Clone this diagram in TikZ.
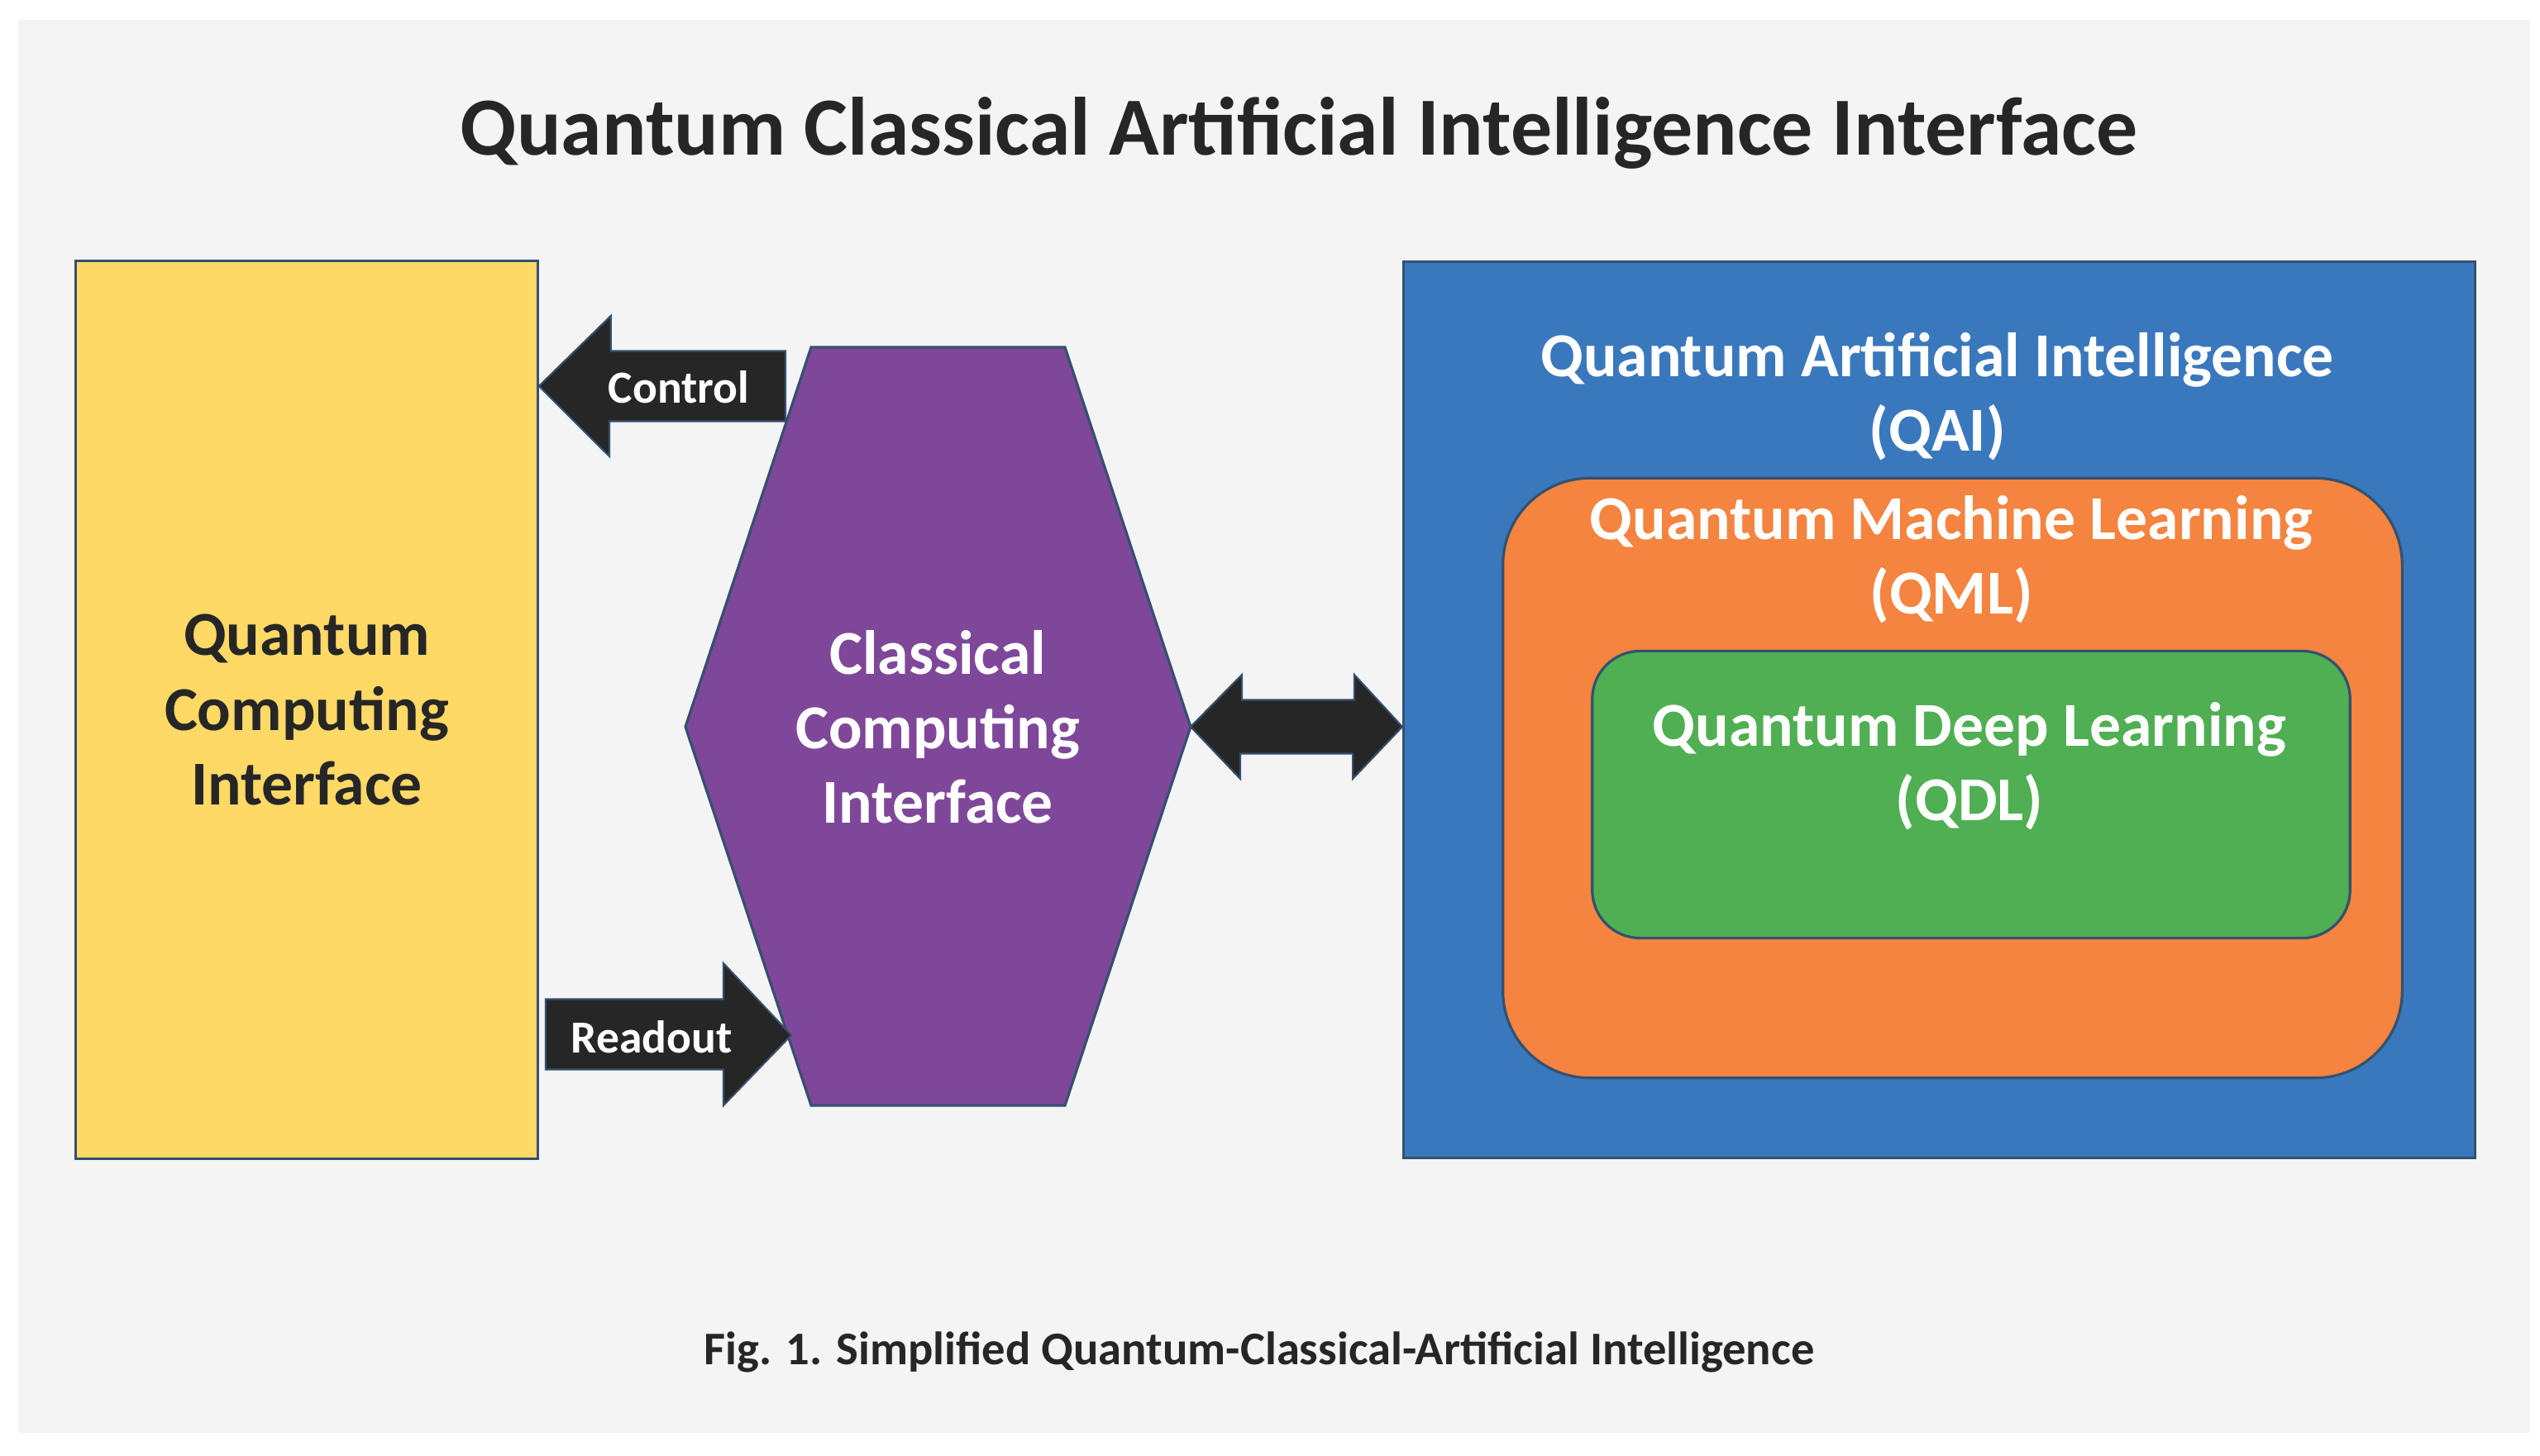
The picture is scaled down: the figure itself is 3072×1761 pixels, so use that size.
\documentclass[tikz,border=0pt]{standalone}
\usepackage{fontspec}
\setmainfont{Carlito}
\usetikzlibrary{calc}
\definecolor{bggray}{HTML}{F4F4F4}
\definecolor{qyellow}{HTML}{FFD966}
\definecolor{qpurple}{HTML}{7F4799}
\definecolor{qblue}{HTML}{3A78BD}
\definecolor{qorange}{HTML}{F4843F}
\definecolor{qgreen}{HTML}{4FAF52}
\definecolor{arrowdark}{HTML}{262626}
\definecolor{edgeblue}{HTML}{34506F}

\begin{document}
\begin{tikzpicture}[x=0.01cm,y=-0.01cm,
    box/.style={draw=edgeblue,line width=0.9pt,inner sep=0pt},
    bigtxt/.style={font=\fontsize{21.5}{25.6}\selectfont\bfseries,align=center,text=white},
    blockarrow/.style={fill=arrowdark,draw=edgeblue,line width=0.6pt},
    arrowtxt/.style={font=\fontsize{15.8}{19}\selectfont\bfseries,text=white}]
  % page and background
  \useasboundingbox (0,0) rectangle (3072,1761);
  \fill[white] (0,0) rectangle (3072,1761);
  \fill[bggray] (22,24) rectangle (3060,1733);
  \node[anchor=base,font=\fontsize{28.4}{34}\selectfont\bfseries,text=arrowdark] (title) at (1571,188)
    {Quantum Classical Artificial Intelligence Interface};

  % quantum side
  \node[box,fill=qyellow,minimum width=5.58cm,minimum height=10.85cm,bigtxt,text=arrowdark] (qci) at (371,858.5)
    {Quantum\\Computing\\Interface};

  % classical hexagon
  \draw[box,fill=qpurple] (981,420) -- (1288,420) -- (1440,879) -- (1288,1337) -- (981,1337) -- (829,879) -- cycle;
  \coordinate (hexR) at (1440,879);
  \node[bigtxt] (cci) at (1134,879) {Classical\\Computing\\Interface};

  % AI boxes
  \node[box,fill=qblue,minimum width=12.95cm,minimum height=10.83cm] (qai) at (2345.5,858.5) {};
  \node[bigtxt] (qailabel) at (2343,480) {Quantum Artificial Intelligence\\(QAI)};
  \node[box,fill=qorange,rounded corners=1.05cm,minimum width=10.87cm,minimum height=7.25cm] (qml) at (2361.5,941) {};
  \node[bigtxt] (qmllabel) at (2360,677) {Quantum Machine Learning\\(QML)};
  \node[box,fill=qgreen,rounded corners=0.58cm,minimum width=9.16cm,minimum height=3.47cm] (qdl) at (2384,961) {};
  \node[bigtxt] (qdllabel) at (2382,927) {Quantum Deep Learning\\(QDL)};

  % block arrows
  \coordinate (ctl) at (950,467);
  \coordinate (rdt) at (957,1252);
  \draw[blockarrow] (qci.east |- ctl) -- ++(87,-85) -- ++(0,42.5) -- (ctl |- 0,424.5) -- (ctl |- 0,509.5) -- ++(-213,0) -- ++(0,42.5) -- cycle;
  \node[arrowtxt] (ctltxt) at (821,468) {Control};
  \draw[blockarrow] (rdt) -- ++(-82,-87) -- ++(0,43.5) -- ++(-215,0) -- ++(0,85) -- ++(215,0) -- ++(0,43.5) -- cycle;
  \node[arrowtxt] (rdttxt) at (788,1254) {Readout};
  \draw[blockarrow] (hexR) -- ++(62,-63) -- ++(0,30.5) -- ++(136,0) -- ++(0,-30.5) -- (qai.west |- hexR)
    -- ++(-60,63) -- ++(0,-30.5) -- ++(-136,0) -- ++(0,30.5) -- cycle;

  \node[anchor=base,font=\fontsize{16.1}{19}\selectfont\bfseries,text=arrowdark] (caption) at (1523,1650)
    {Fig. 1. Simplified Quantum-Classical-Artificial Intelligence};
\end{tikzpicture}
\end{document}
